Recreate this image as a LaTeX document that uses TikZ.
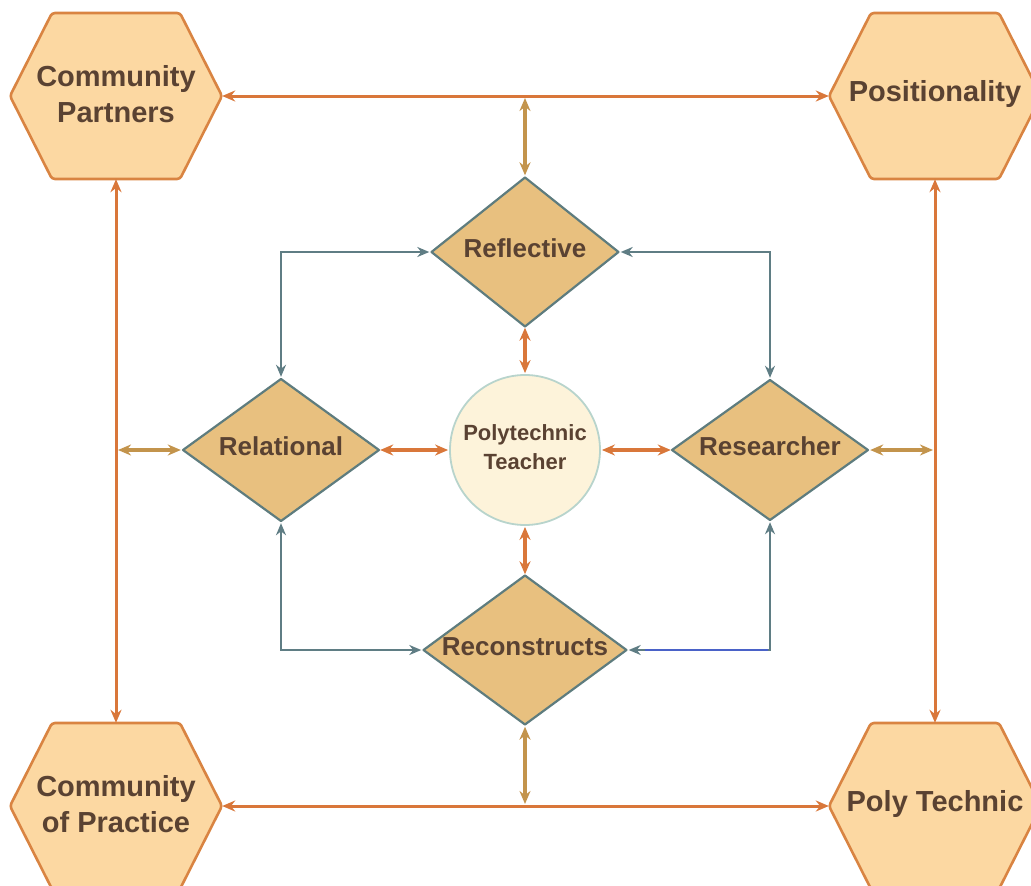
\documentclass[tikz,border=0pt]{standalone}
\usepackage{fontspec}
\setmainfont{Liberation Sans}
\usetikzlibrary{arrows.meta}
\definecolor{hexfill}{HTML}{FCD8A2}
\definecolor{hexdraw}{HTML}{D98442}
\definecolor{diafill}{HTML}{E8C07F}
\definecolor{diadraw}{HTML}{5E7C7E}
\definecolor{circfill}{HTML}{FDF3DA}
\definecolor{circdraw}{HTML}{B8D4CC}
\definecolor{txt}{HTML}{5A4232}
\definecolor{orng}{HTML}{D9773A}
\definecolor{gold}{HTML}{C3944C}
\definecolor{slate}{HTML}{5F7D84}
\definecolor{blu}{HTML}{4A62C8}
\tikzset{
  hexbox/.style={fill=hexfill,draw=hexdraw,line width=2.6pt,rounded corners=3pt},
  diabox/.style={fill=diafill,draw=diadraw,line width=2.2pt,line join=round},
  hextext/.style={shape=rectangle,inner sep=0pt,minimum width=212pt,minimum height=166pt,
    align=center,text=txt,font=\fontsize{29}{36}\selectfont\bfseries},
  diatext/.style={shape=rectangle,inner sep=0pt,align=center,text=txt,text height=19pt,text depth=8pt,
    font=\fontsize{26}{32}\selectfont\bfseries},
  hexarrow/.style={draw=orng,line width=3pt,{Stealth[length=13pt,width=11pt]}-{Stealth[length=13pt,width=11pt]}},
  inarrow/.style={draw=orng,line width=3.4pt,{Stealth[length=13pt,width=11pt]}-{Stealth[length=13pt,width=11pt]},shorten <=1pt,shorten >=1pt},
  goldarrow/.style={draw=gold,line width=3.4pt,{Stealth[length=13pt,width=11pt]}-{Stealth[length=13pt,width=11pt]},shorten <=2pt,shorten >=2pt},
  slatearrow/.style={draw=slate,line width=2.6pt,{Stealth[length=12pt,width=10pt]}-{Stealth[length=12pt,width=10pt]},shorten <=2pt,shorten >=2pt},
}
\begin{document}
\begin{tikzpicture}[x=1pt,y=-1pt]
\useasboundingbox (0,0) rectangle (1031,886);
\clip (0,0) rectangle (1031,886);
% hexagons
\draw[hexbox,shift={(116,96)}] (-106,0) -- (-64,-83) -- (64,-83) -- (106,0) -- (64,83) -- (-64,83) -- cycle;
\node[hextext] (cp) at (116,96) {Community\\Partners\\[-32pt]};
\draw[hexbox,shift={(935,96)}] (-106,0) -- (-64,-83) -- (64,-83) -- (106,0) -- (64,83) -- (-64,83) -- cycle;
\node[hextext,text height=21pt,text depth=10pt] (pos) at (935,96) {Positionality};
\draw[hexbox,shift={(116,806)}] (-106,0) -- (-64,-83) -- (64,-83) -- (106,0) -- (64,83) -- (-64,83) -- cycle;
\node[hextext] (cop) at (116,806) {Community\\of Practice\\[-32pt]};
\draw[hexbox,shift={(935,806)}] (-106,0) -- (-64,-83) -- (64,-83) -- (106,0) -- (64,83) -- (-64,83) -- cycle;
\node[hextext,text height=21pt,text depth=10pt] (pt) at (935,806) {Poly Technic};
% diamonds
\draw[diabox,shift={(525,252)}] (-93.5,0) -- (0,-74.5) -- (93.5,0) -- (0,74.5) -- cycle;
\node[diatext,minimum width=187pt,minimum height=149pt] (refl) at (525,252) {Reflective};
\draw[diabox,shift={(281,450)}] (-98,0) -- (0,-71) -- (98,0) -- (0,71) -- cycle;
\node[diatext,minimum width=196pt,minimum height=142pt] (rel) at (281,450) {Relational};
\draw[diabox,shift={(770,450)}] (-98,0) -- (0,-70) -- (98,0) -- (0,70) -- cycle;
\node[diatext,minimum width=196pt,minimum height=140pt] (res) at (770,450) {Researcher};
\draw[diabox,shift={(525,650)}] (-101.5,0) -- (0,-74.5) -- (101.5,0) -- (0,74.5) -- cycle;
\node[diatext,minimum width=203pt,minimum height=149pt] (rec) at (525,650) {Reconstructs};
% circle
\node[circle,minimum size=150pt,inner sep=0pt,fill=circfill,draw=circdraw,line width=1.8pt,
  align=center,text=txt,font=\fontsize{22}{29}\selectfont\bfseries] (pt0) at (525,450) {Polytechnic\\Teacher\\[-23pt]};
% outer connectors
\draw[hexarrow] (cp.east) -- (pos.west);
\draw[hexarrow] (cop.east) -- (pt.west);
\draw[hexarrow] (cp.south) -- (cop.north);
\draw[hexarrow] (pos.south) -- (pt.north);
% junction coordinates on outer lines
\coordinate (tj) at (525,96);
\coordinate (bj) at (525,806);
\coordinate (lj) at (116,450);
\coordinate (rj) at (935,450);
\draw[goldarrow] (tj) -- (refl.north);
\draw[goldarrow] (bj) -- (rec.south);
\draw[goldarrow] (lj) -- (rel.west);
\draw[goldarrow] (rj) -- (res.east);
% inner orange
\draw[inarrow] (rel.east) -- (pt0.west);
\draw[inarrow] (pt0.east) -- (res.west);
\draw[inarrow] (refl.south) -- (pt0.north);
\draw[inarrow] (pt0.south) -- (rec.north);
% slate elbows
\draw[slatearrow] (refl.west) -| (rel.north);
\draw[slatearrow] (refl.east) -| (res.north);
\draw[slatearrow] (rel.south) |- (rec.west);
\draw[slatearrow] (res.south) |- (rec.east);
\coordinate (bk) at (768,650);
\coordinate (bk2) at (645,650);
\draw[blu,line width=2pt] (bk) -- (bk2);
\end{tikzpicture}
\end{document}
